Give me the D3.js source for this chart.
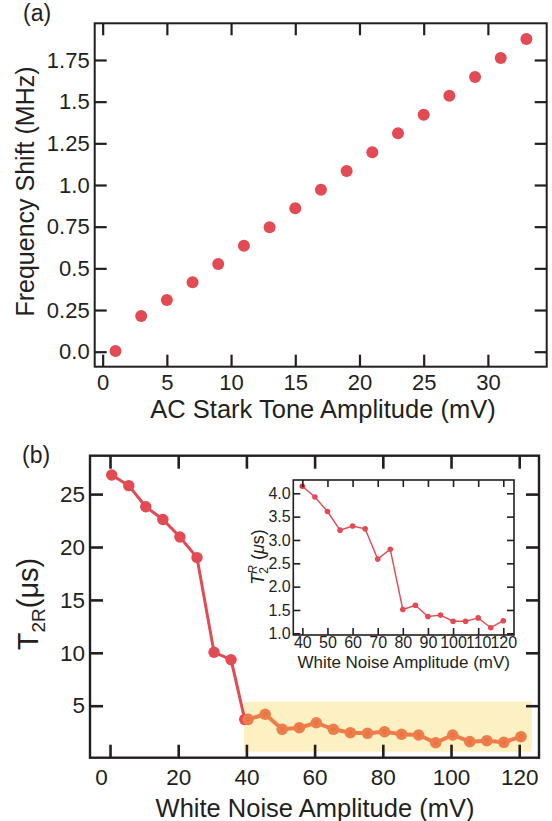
<!DOCTYPE html>
<html>
<head>
<meta charset="utf-8">
<script src="https://cdn.jsdelivr.net/npm/d3@7"></script>
<style>
    body { margin: 0; background: #fff; }
    svg { display: block; }
    text { font-family: "Liberation Sans", Arial, Helvetica, sans-serif; fill: #231f20; }
</style>
</head>
<body>
<svg id="chart" width="552" height="821"></svg>
<script>
// panel (a) - AC Stark shift
var starkAmp = [1, 3, 5, 7, 9, 11, 13, 15, 17, 19, 21, 23, 25, 27, 29, 31, 33];
var starkShift = [0.004, 0.214, 0.31, 0.416, 0.526, 0.636, 0.746, 0.86, 0.972, 1.084, 1.196, 1.31, 1.422, 1.536, 1.648, 1.762, 1.876];
var starkXTicks = [0, 5, 10, 15, 20, 25, 30];
var starkYTicks = [0, 0.25, 0.5, 0.75, 1.0, 1.25, 1.5, 1.75];
var starkYLabels = ['0.0', '0.25', '0.5', '0.75', '1.0', '1.25', '1.5', '1.75'];

// panel (b) - T2R vs white noise
var noiseAmpRed = [0.5, 5.5, 10.5, 15.5, 20.5, 25.5, 30.5, 35.5, 39.5];
var t2Red = [26.8, 25.8, 23.8, 22.6, 20.95, 19.0, 10.05, 9.35, 3.71];
var noiseAmpOrange = [40.5, 45.5, 50.5, 55.5, 60.5, 65.5, 70.5, 75.5, 80.5, 85.5, 90.5, 95.5, 100.5, 105.5, 110.5, 115.5, 120.5];
var t2Orange = [3.71, 4.19, 2.77, 2.92, 3.39, 2.77, 2.45, 2.39, 2.54, 2.3, 2.23, 1.5, 2.23, 1.6, 1.69, 1.54, 2.07];
var noiseXTicks = [0, 20, 40, 60, 80, 100, 120];
var noiseYTicks = [5, 10, 15, 20, 25];
var highlightX = [39.3, 123.7];
var highlightY = [0.65, 5.38];

// inset
var insetAmp = [40, 45, 50, 55, 60, 65, 70, 75, 80, 85, 90, 95, 100, 105, 110, 115, 120];
var insetT2 = [4.15, 3.92, 3.61, 3.21, 3.3, 3.24, 2.59, 2.8, 1.51, 1.6, 1.36, 1.39, 1.26, 1.26, 1.33, 1.12, 1.27];
var insetXTicks = [40, 50, 60, 70, 80, 90, 100, 110, 120];
var insetYTicks = [1.0, 1.5, 2.0, 2.5, 3.0, 3.5, 4.0];
var insetYLabels = ['1.0', '1.5', '2.0', '2.5', '3.0', '3.5', '4.0'];

var ink = '#231f20',
    red = '#e24a54',
    orange = '#ed7d4a',
    yellow = '#fdf1c4';

var svg = d3.select('#chart');

function zip(xs, ys) {
    return xs.map(function(x, i) { return { x: x, y: ys[i] }; });
}

// inward ticks on all four sides + frame
function drawAxes(g, x, y, o) {
    var w = x.range()[1], h = y.range()[0];

    var bottom = g.append('g').attr('transform', 'translate(0,' + h + ')')
        .call(d3.axisBottom(x).tickValues(o.xTicks).tickSize(-o.tick).tickPadding(o.padX)
            .tickFormat(o.xFmt || d3.format('d')));
    g.append('g')
        .call(d3.axisTop(x).tickValues(o.xTicks).tickSize(-o.tick).tickFormat(''));
    g.append('g')
        .call(d3.axisLeft(y).tickValues(o.yTicks).tickSize(-o.tick).tickPadding(o.padY)
            .tickFormat(o.yFmt || d3.format('d')));
    g.append('g').attr('transform', 'translate(' + w + ',0)')
        .call(d3.axisRight(y).tickValues(o.yTicks).tickSize(-o.tick).tickFormat(''));

    g.selectAll('.domain').remove();
    g.selectAll('.tick line').attr('stroke', ink).attr('stroke-width', o.tickW);
    g.selectAll('.tick text')
        .attr('fill', ink)
        .style('font-family', '"Liberation Sans", Arial, Helvetica, sans-serif')
        .style('font-size', o.font + 'px');

    g.append('rect')
        .attr('width', w).attr('height', h)
        .attr('fill', 'none').attr('stroke', ink).attr('stroke-width', o.frameW);

    return bottom;
}

// ---------- panel (a) ----------
var aBox = { left: 94.7, top: 23.3, w: 452, h: 343.4 };
var ax = d3.scaleLinear().domain([-0.62, 34.58]).range([0, aBox.w]);
var ay = d3.scaleLinear().domain([-0.09, 1.97]).range([aBox.h, 0]);
var ga = svg.append('g').attr('transform', 'translate(' + aBox.left + ',' + aBox.top + ')');

ga.selectAll('circle.pt')
    .data(zip(starkAmp, starkShift))
    .enter().append('circle')
    .attr('class', 'pt')
    .attr('cx', function(d) { return ax(d.x); })
    .attr('cy', function(d) { return ay(d.y); })
    .attr('r', 6)
    .attr('fill', red);

drawAxes(ga, ax, ay, {
    xTicks: starkXTicks, yTicks: starkYTicks,
    yFmt: function(d, i) { return starkYLabels[i]; },
    tick: 12, tickW: 2.2, frameW: 2, font: 22, padX: 7.7, padY: 5
});

svg.append('text').attr('x', 23).attr('y', 20.5)
    .style('font-size', '23px').text('(a)');
svg.append('text').attr('x', 323).attr('y', 418)
    .attr('text-anchor', 'middle').style('font-size', '25.5px')
    .text('AC Stark Tone Amplitude (mV)');
svg.append('text')
    .attr('transform', 'translate(33.5,191.5) rotate(-90)')
    .attr('text-anchor', 'middle').style('font-size', '25px')
    .text('Frequency Shift (MHz)');

// ---------- panel (b) ----------
var bBox = { left: 90, top: 455.7, w: 449, h: 302 };
var bx = d3.scaleLinear().domain([-5.87, 125.8]).range([0, bBox.w]);
var by = d3.scaleLinear().domain([0.085, 28.63]).range([bBox.h, 0]);
var gb = svg.append('g').attr('transform', 'translate(' + bBox.left + ',' + bBox.top + ')');

gb.append('rect')
    .attr('x', bx(highlightX[0])).attr('y', by(highlightY[1]))
    .attr('width', bx(highlightX[1]) - bx(highlightX[0]))
    .attr('height', by(highlightY[0]) - by(highlightY[1]))
    .attr('fill', yellow);

var bAxisBottom = drawAxes(gb, bx, by, {
    xTicks: noiseXTicks, yTicks: noiseYTicks,
    tick: 13, tickW: 2.6, frameW: 2.4, font: 22.5, padX: 11.7, padY: 5
});
bAxisBottom.selectAll('.tick text').filter(function(d) { return d === 0; }).attr('dx', -9);

var line = function(sx, sy) {
    return d3.line().x(function(d) { return sx(d.x); }).y(function(d) { return sy(d.y); });
};

var redPts = zip(noiseAmpRed, t2Red);
gb.append('path').datum(redPts)
    .attr('d', line(bx, by))
    .attr('fill', 'none').attr('stroke', red).attr('stroke-width', 3);
gb.selectAll('circle.red')
    .data(redPts)
    .enter().append('circle')
    .attr('class', 'red')
    .attr('cx', function(d) { return bx(d.x); })
    .attr('cy', function(d) { return by(d.y); })
    .attr('r', 5.7)
    .attr('fill', red);

var orangePts = zip(noiseAmpOrange, t2Orange);
gb.append('path').datum(orangePts)
    .attr('d', line(bx, by))
    .attr('fill', 'none').attr('stroke', orange).attr('stroke-width', 4);
var og = gb.selectAll('g.orange')
    .data(orangePts)
    .enter().append('g')
    .attr('class', 'orange')
    .attr('transform', function(d) { return 'translate(' + bx(d.x) + ',' + by(d.y) + ')'; });
og.append('circle').attr('r', 5.8).attr('fill', orange);
og.append('circle').attr('r', 1.6).attr('fill', 'none').attr('stroke', '#de6a3c').attr('stroke-width', 0.8);

svg.append('text').attr('x', 22).attr('y', 463)
    .style('font-size', '23px').text('(b)');
svg.append('text').attr('x', 315).attr('y', 816.5)
    .attr('text-anchor', 'middle').style('font-size', '25.5px')
    .text('White Noise Amplitude (mV)');

var bLabel = svg.append('text')
    .attr('transform', 'translate(38,604) rotate(-90)')
    .attr('text-anchor', 'middle').style('font-size', '29px');
bLabel.append('tspan').text('T');
bLabel.append('tspan').attr('dy', 7).style('font-size', '19px').text('2R');
bLabel.append('tspan').attr('dy', -7).text('(\u03bcs)');

// ---------- inset ----------
var iBox = { left: 293.3, top: 480, w: 220.7, h: 155 };
var ix = d3.scaleLinear().domain([36.4, 124.26]).range([0, iBox.w]);
var iy = d3.scaleLinear().domain([0.964, 4.285]).range([iBox.h, 0]);
var gi = svg.append('g').attr('transform', 'translate(' + iBox.left + ',' + iBox.top + ')');

gi.append('rect').attr('width', iBox.w).attr('height', iBox.h).attr('fill', '#fff');

var insetPts = zip(insetAmp, insetT2);
gi.append('path').datum(insetPts)
    .attr('d', line(ix, iy))
    .attr('fill', 'none').attr('stroke', red).attr('stroke-width', 1.4);
gi.selectAll('circle.ipt')
    .data(insetPts)
    .enter().append('circle')
    .attr('class', 'ipt')
    .attr('cx', function(d) { return ix(d.x); })
    .attr('cy', function(d) { return iy(d.y); })
    .attr('r', 2.8)
    .attr('fill', function(d, i) { return i === 0 ? '#ea3038' : red; });

drawAxes(gi, ix, iy, {
    xTicks: insetXTicks, yTicks: insetYTicks,
    yFmt: function(d, i) { return insetYLabels[i]; },
    tick: 7, tickW: 1.6, frameW: 1.6, font: 16, padX: 1.6, padY: 2.6
});

svg.append('text').attr('x', 403.7).attr('y', 668)
    .attr('text-anchor', 'middle').style('font-size', '17px')
    .text('White Noise Amplitude (mV)');

var iLabel = svg.append('text')
    .attr('transform', 'translate(264,557) rotate(-90)')
    .attr('text-anchor', 'middle').style('font-size', '18px');
iLabel.append('tspan').style('font-style', 'italic').text('T');
iLabel.append('tspan').attr('dy', 4).style('font-size', '12px').text('2');
iLabel.append('tspan').attr('dx', -6.7).attr('dy', -11).style('font-size', '12px').style('font-style', 'italic').text('R');
iLabel.append('tspan').attr('dy', 7).text(' (');
iLabel.append('tspan').style('font-style', 'italic').text('\u03bc');
iLabel.append('tspan').text('s)');
</script>
</body>
</html>
